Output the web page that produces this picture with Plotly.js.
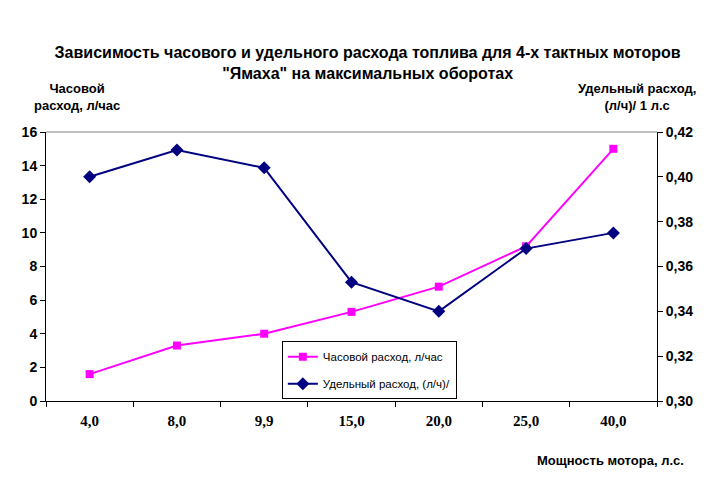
<!DOCTYPE html>
<html>
<head>
<meta charset="utf-8">
<script src="https://cdn.plot.ly/plotly-3.0.1.min.js"></script>
<style>html,body{margin:0;padding:0;background:#fff;}#chart{width:718px;height:491px;}</style>
</head>
<body>
<div id="chart"></div>
<script>
const categories = ["4,0", "8,0", "9,9", "15,0", "20,0", "25,0", "40,0"];
const hourlyConsumption = [1.6, 3.3, 4.0, 5.3, 6.8, 9.2, 15.0];
const specificConsumption = [0.400, 0.412, 0.404, 0.353, 0.340, 0.368, 0.375];
const hourlyName = "Часовой расход, л/час";
const specificName = "Удельный расход, (л/ч)/";

const FONT = "Liberation Sans, Arial, sans-serif";
const SERIF = "Liberation Serif, Times New Roman, serif";

const traces = [
  {
    x: categories, y: hourlyConsumption, name: hourlyName, type: "scatter", mode: "lines+markers",
    line: {color: "#ff00ff", width: 2}, marker: {symbol: "square", size: 8, color: "#ff00ff"},
    yaxis: "y", legendgroup: "g1"
  },
  {
    x: categories, y: specificConsumption, name: specificName, type: "scatter", mode: "lines+markers",
    line: {color: "#000080", width: 2}, marker: {symbol: "diamond", size: 10, color: "#000080"},
    yaxis: "y2", legendgroup: "g2"
  }
];

const layout = {
  width: 718, height: 491,
  margin: {l: 46, r: 61, t: 132, b: 90},
  paper_bgcolor: "#fff", plot_bgcolor: "#fff",
  separators: ", ",
  font: {family: FONT, size: 12, color: "#000"},
  showlegend: true,
  title: {
    text: "<b>Зависимость часового и удельного расхода топлива для 4-х тактных моторов<br>\"Ямаха\" на максимальных оборотах</b>",
    font: {family: FONT, size: 16, color: "#000"},
    x: 0.512, xanchor: "center", y: 0.882, yanchor: "middle"
  },
  xaxis: {
    type: "category", tickson: "boundaries", ticks: "outside", ticklen: 5, tickcolor: "#000",
    showline: true, linecolor: "#000", linewidth: 1, showgrid: false, zeroline: false,
    tickfont: {family: SERIF, size: 15, color: "#000", weight: "bold"},
    ticklabelstandoff: 6,
    range: [-0.5, 6.5]
  },
  yaxis: {
    range: [0, 16], dtick: 2, ticks: "outside", ticklen: 5, tickcolor: "#000",
    showline: true, linecolor: "#000", linewidth: 1, showgrid: false, zeroline: false,
    tickfont: {family: FONT, size: 14, color: "#000", weight: "bold"}
  },
  yaxis2: {
    overlaying: "y", side: "right", range: [0.30, 0.42], dtick: 0.02, tickformat: ".2f",
    ticks: "outside", ticklen: 5, tickcolor: "#000",
    showline: true, linecolor: "#000", linewidth: 1, showgrid: false, zeroline: false,
    tickfont: {family: FONT, size: 14, color: "#000", weight: "bold"}
  },
  legend: {
    x: 0.386, y: 0.222, xanchor: "left", yanchor: "top",
    bordercolor: "#000", borderwidth: 1, bgcolor: "#fff",
    font: {family: FONT, size: 11.5, color: "#000"},
    tracegroupgap: 8
  },
  shapes: [
    {type: "line", xref: "paper", yref: "paper", x0: 0, x1: 1, y0: 1, y1: 1, line: {color: "#808080", width: 1}}
  ],
  annotations: [
    {text: "<b>Часовой<br>расход, л/час</b>", xref: "paper", yref: "paper", x: (77-46)/611, y: (401-97)/269,
     xanchor: "center", yanchor: "middle", showarrow: false, font: {family: FONT, size: 13, color: "#000"}},
    {text: "<b>Удельный расход,<br>(л/ч)/ 1 л.с</b>", xref: "paper", yref: "paper", x: (637-46)/611, y: (401-97)/269,
     xanchor: "center", yanchor: "middle", showarrow: false, font: {family: FONT, size: 13, color: "#000"}},
    {text: "<b>Мощность мотора, л.с.</b>", xref: "paper", yref: "paper", x: (610-46)/611, y: -(460-401)/269,
     xanchor: "center", yanchor: "middle", showarrow: false, font: {family: FONT, size: 13, color: "#000"}}
  ]
};

Plotly.newPlot("chart", traces, layout, {displayModeBar: false, staticPlot: true});
</script>
</body>
</html>
